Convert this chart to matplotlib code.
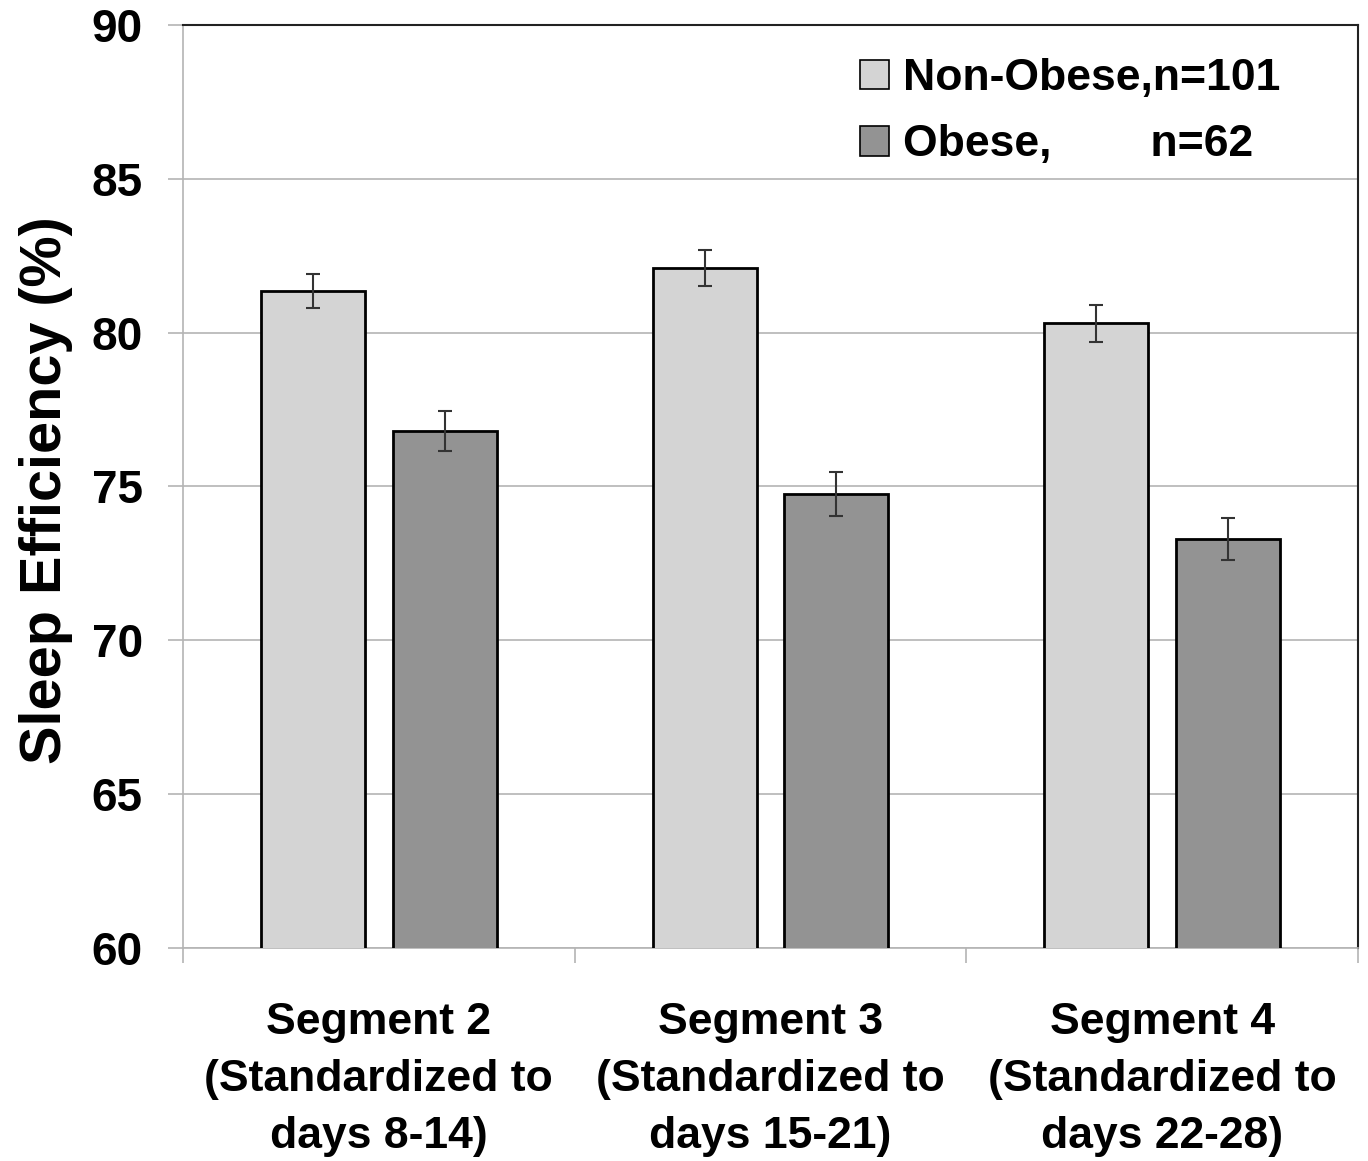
import numpy as np
import matplotlib.pyplot as plt

plt.rcParams['font.family'] = ['Liberation Sans', 'DejaVu Sans']
plt.rcParams['font.weight'] = 'bold'

segments = ['Segment 2\n(Standardized to\ndays 8-14)',
            'Segment 3\n(Standardized to\ndays 15-21)',
            'Segment 4\n(Standardized to\ndays 22-28)']
non_obese = [81.35, 82.1, 80.3]
non_obese_err = [0.55, 0.6, 0.6]
obese = [76.8, 74.75, 73.3]
obese_err = [0.65, 0.72, 0.68]
labels = ['Non-Obese,n=101', 'Obese,        n=62']

fig = plt.figure(figsize=(13.68, 11.61), dpi=100)
ax = fig.add_axes([0.1338, 0.1835, 0.8589, 0.795])

x = np.arange(len(segments))
w = 0.265
off = 0.168
err_kw = dict(ecolor='#333333', elinewidth=1.5, capsize=5, capthick=1.5)
ax.bar(x - off, non_obese, w, yerr=non_obese_err, color='#d4d4d4',
       edgecolor='black', linewidth=2, label=labels[0], error_kw=err_kw, zorder=3)
ax.bar(x + off, obese, w, yerr=obese_err, color='#939393',
       edgecolor='black', linewidth=2, label=labels[1], error_kw=err_kw, zorder=3)

ax.set_ylim(60, 90)
ax.set_xlim(-0.5, 2.5)
ax.set_yticks(np.arange(60, 91, 5))
ax.yaxis.grid(True, color='#b4b4b4', linewidth=1.2, zorder=0)
ax.set_axisbelow(True)

ax.set_xticks(x)
ax.set_xticklabels(segments, fontsize=32, fontweight='bold', linespacing=1.5)
ax.set_xticks([-0.5, 0.5, 1.5, 2.5], minor=True)
ax.tick_params(axis='x', which='major', length=0, pad=39)
ax.tick_params(axis='x', which='minor', length=11, width=1.2, color='#b4b4b4')
ax.tick_params(axis='y', length=11, width=1.2, color='#b4b4b4', labelsize=33, pad=18)
for lab in ax.get_yticklabels():
    lab.set_fontweight('bold')

ax.set_ylabel('Sleep Efficiency (%)', fontsize=41.5, fontweight='bold')
ax.yaxis.set_label_coords(-0.094, 0.496)

for side in ['left', 'bottom']:
    ax.spines[side].set_color('#b4b4b4')
    ax.spines[side].set_linewidth(1.2)
for side in ['top', 'right']:
    ax.spines[side].set_color('#222222')
    ax.spines[side].set_linewidth(1.5)

leg = fig.legend(loc='upper left', bbox_to_anchor=(860 / 1368, 1 - 58 / 1161),
                 frameon=False, borderpad=0, borderaxespad=0,
                 prop={'size': 32, 'weight': 'bold'}, handlelength=0.65,
                 handleheight=0.65, handletextpad=0.32, labelspacing=0.57)
for h in leg.legend_handles:
    h.set_linewidth(1.2)

fig.savefig('out.png', dpi=100)
